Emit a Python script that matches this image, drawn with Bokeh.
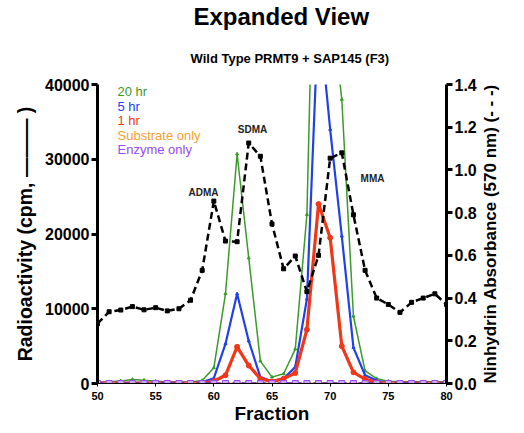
import math
from bokeh.plotting import figure
from bokeh.models import Range1d, LinearAxis, Label, FixedTicker, NumeralTickFormatter, Title
from bokeh.embed import file_html
from bokeh.resources import INLINE

fractions = list(range(50, 81))

hr20 = [150, 250, 350, 550, 450, 300, 250, 200, 200, 400,
        2100, 12000, 30700, 16800, 3000, 850, 1300, 4600, 22600, 87000,
        52000, 38000, 9000, 1700, 650, 300, 250, 250, 250, 250, 250]
hr5 = [100, 100, 100, 100, 100, 100, 100, 100, 100, 200,
       700, 5300, 12000, 5700, 850, 300, 650, 2200, 11300, 50000,
       34000, 19700, 4800, 1100, 400, 100, 100, 100, 100, 100, 100]
hr1 = [50, 50, 50, 50, 50, 50, 50, 50, 50, 50,
       300, 1100, 4900, 2400, 650, 250, 650, 1400, 7200, 24000,
       19500, 5000, 1500, 600, 150, 50, 50, 50, 50, 50, 50]
substrate_only = [0] * 31
enzyme_only = [0] * 31
absorbance = [0.28, 0.336, 0.344, 0.36, 0.345, 0.355, 0.34, 0.35, 0.39, 0.53,
              0.854, 0.667, 0.664, 1.126, 1.064, 0.747, 0.537, 0.597, 0.43, 0.60,
              1.055, 1.08, 0.79, 0.53, 0.40, 0.37, 0.333, 0.38, 0.40, 0.42, 0.37]

left_ticks = [0, 10000, 20000, 30000, 40000]
right_ticks = [0.0, 0.2, 0.4, 0.6, 0.8, 1.0, 1.2, 1.4]
x_ticks = [50, 55, 60, 65, 70, 75, 80]

legend_labels = ["20 hr", "5 hr", "1 hr", "Substrate only", "Enzyme only"]
legend_colors = ["#3a9a2a", "#2040f0", "#f03818", "#f5a030", "#9a4af0"]
peak_names = ["ADMA", "SDMA", "MMA"]
right_title = "Ninhydrin Absorbance (570 nm) (- - -)"

FONT = "Liberation Sans"

p = figure(width=520, height=430, output_backend="svg", toolbar_location=None,
           x_range=Range1d(50, 80), y_range=Range1d(0, 40000),
           min_border_left=97, min_border_right=74, min_border_top=83, min_border_bottom=47)
p.outline_line_color = None
p.grid.grid_line_color = None
p.background_fill_color = "white"
p.border_fill_color = "white"

p.extra_y_ranges = {"abs": Range1d(0, 1.4)}

# titles
sub = Title(text="Wild Type PRMT9 + SAP145 (F3)", align="left", offset=93,
            text_font=FONT, text_font_style="bold", text_font_size="13px",
            text_color="black", standoff=38)
main = Title(text="Expanded View", align="left", offset=96,
             text_font=FONT, text_font_style="bold", text_font_size="24px",
             text_color="black", standoff=0)
p.add_layout(sub, "above")
p.add_layout(main, "above")

# left axis
ya = p.yaxis[0]
ya.ticker = FixedTicker(ticks=left_ticks)
ya.axis_line_width = 3
ya.major_tick_line_width = 3
ya.major_tick_out = 6
ya.major_tick_in = 0
ya.minor_tick_line_color = None
ya.major_label_text_font = FONT
ya.major_label_text_font_style = "bold"
ya.major_label_text_font_size = "16px"
ya.major_label_text_color = "black"
ya.major_label_standoff = 2
ya.axis_label = "Radioactivity (cpm, \u2014\u2014\u2014 )"
ya.axis_label_text_font = FONT
ya.axis_label_text_font_style = "bold"
ya.axis_label_text_font_size = "19.5px"
ya.axis_label_text_color = "black"
ya.axis_label_standoff = 6

# right axis (ticks and numbers)
ra = LinearAxis(y_range_name="abs", ticker=FixedTicker(ticks=right_ticks),
                formatter=NumeralTickFormatter(format="0.0"))
ra.axis_line_width = 3
ra.major_tick_line_width = 3
ra.major_tick_out = 6
ra.major_tick_in = 0
ra.minor_tick_line_color = None
ra.major_label_text_font = FONT
ra.major_label_text_font_style = "bold"
ra.major_label_text_font_size = "16px"
ra.major_label_text_color = "black"
ra.major_label_standoff = 2
p.add_layout(ra, "right")

# right axis title, reading bottom-to-top, written as the single tick label of a bare axis
rl = LinearAxis(y_range_name="abs", ticker=FixedTicker(ticks=[0]),
                major_label_overrides={0: right_title})
rl.axis_line_color = None
rl.major_tick_line_color = None
rl.minor_tick_line_color = None
rl.major_tick_out = 0
rl.major_tick_in = 0
rl.major_label_standoff = 11
rl.major_label_orientation = math.pi / 2
rl.major_label_text_font = FONT
rl.major_label_text_font_style = "bold"
rl.major_label_text_font_size = "17px"
rl.major_label_text_color = "black"
p.add_layout(rl, "right")

# bottom axis
xa = p.xaxis[0]
xa.ticker = FixedTicker(ticks=x_ticks)
xa.axis_line_width = 1
xa.major_tick_line_width = 1
xa.major_tick_out = 3
xa.major_tick_in = 0
xa.minor_tick_line_color = None
xa.major_label_text_font = FONT
xa.major_label_text_font_style = "bold"
xa.major_label_text_font_size = "11px"
xa.major_label_text_color = "black"
xa.major_label_standoff = 5
xa.axis_label = "Fraction"
xa.axis_label_text_font = FONT
xa.axis_label_text_font_style = "bold"
xa.axis_label_text_font_size = "19px"
xa.axis_label_text_color = "black"
xa.axis_label_standoff = 0

# series
p.line(fractions, hr20, color=legend_colors[0], line_width=1.5)
p.scatter(fractions, hr20, color=legend_colors[0], size=3, marker="triangle")
p.line(fractions, hr5, color=legend_colors[1], line_width=2.2)
p.scatter(fractions, hr5, color=legend_colors[1], size=3, marker="triangle")
p.line(fractions, hr1, color=legend_colors[2], line_width=3.2)
p.scatter(fractions, hr1, color=legend_colors[2], size=5)

p.line(fractions, absorbance, y_range_name="abs", color="black", line_width=2.5, line_dash="7 4")
p.scatter(fractions, absorbance, y_range_name="abs", color="black", size=4, marker="square")

p.line(fractions, substrate_only, color=legend_colors[3], line_width=2)
p.scatter(fractions, substrate_only, color=legend_colors[3], size=3, marker="square")
p.line(fractions, enzyme_only, color="#5a2a9a", line_width=2.5, line_dash="6 3")
p.scatter(fractions, enzyme_only, color=legend_colors[4], fill_color="#c8a8f0", size=6, marker="square")

# legend (text only)
for i, (lab, col) in enumerate(zip(legend_labels, legend_colors)):
    p.add_layout(Label(x=20, y=292 - i * 14.5, x_units="screen", y_units="screen", text=lab,
                       text_color=col, text_font=FONT, text_font_size="13px",
                       text_baseline="middle", text_align="left"))

# peak names
peak_pos = [(106, 191), (155, 254), (275, 205)]
for name, (sx, sy) in zip(peak_names, peak_pos):
    p.add_layout(Label(x=sx, y=sy, x_units="screen", y_units="screen", text=name,
                       text_font=FONT, text_font_style="bold", text_font_size="10px",
                       text_baseline="middle", text_align="center", text_color="#222222"))

open("out.html", "w").write(file_html(p, INLINE))
